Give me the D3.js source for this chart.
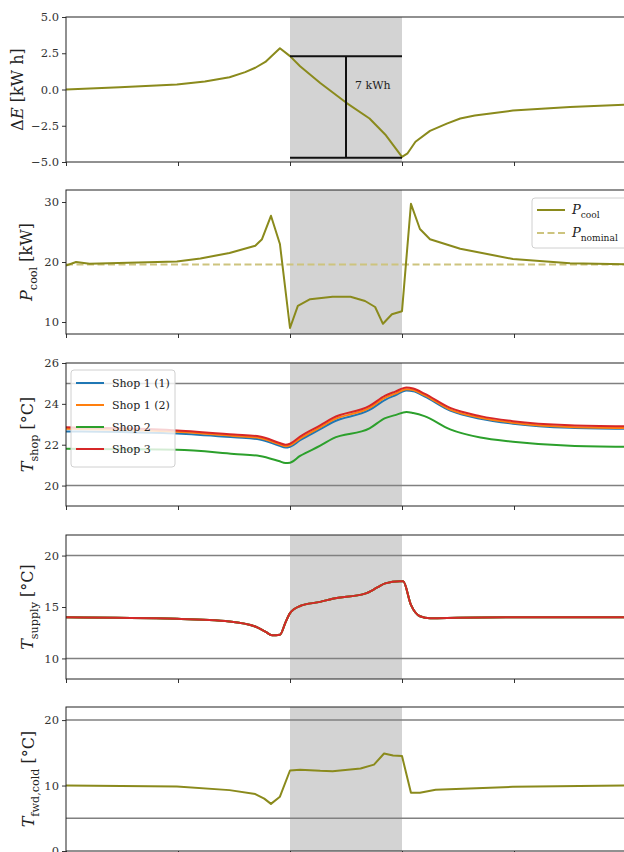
<!DOCTYPE html>
<html lang="en">
<head>
  <meta charset="UTF-8">
  <title>Demand response event</title>
  <script src="https://d3js.org/d3.v7.min.js"></script>
  <style>
    body { margin: 0; background: #fff; }
    text { font-family: "DejaVu Serif", "Liberation Serif", serif; }
  </style>
</head>
<body>
  <div id="my_dataviz"></div>
  <script>
    // Event window (hours)
    var eventStart = 2, eventEnd = 3;

    // Panel 1: energy deviation [kWh]
    var tEnergy = [0, 0.48, 0.99, 1.24, 1.46, 1.6, 1.69, 1.78, 1.91, 2.0, 2.09, 2.27, 2.5, 2.71, 2.85, 3.0, 3.05, 3.12, 3.25, 3.4, 3.52, 3.65, 3.79, 3.99, 4.5, 5.0];
    var energy  = [0, 0.15, 0.35, 0.55, 0.85, 1.2, 1.5, 1.9, 2.85, 2.3, 1.6, 0.45, -0.9, -2.0, -3.1, -4.65, -4.4, -3.6, -2.85, -2.35, -2.0, -1.8, -1.65, -1.45, -1.2, -1.05];
    var energyTop = 2.3, energyBottom = -4.7, energyMark = 2.5;
    var energyLabel = "7 kWh";

    // Panel 2: cooling power [kW]
    var tCool = [0, 0.09, 0.21, 0.99, 1.2, 1.46, 1.69, 1.75, 1.83, 1.91, 2.0, 2.07, 2.18, 2.38, 2.54, 2.67, 2.76, 2.83, 2.91, 3.0, 3.08, 3.16, 3.25, 3.52, 3.99, 4.5, 5.0];
    var pCool = [19.4, 20.0, 19.7, 20.1, 20.6, 21.5, 22.7, 23.8, 27.7, 23.0, 9.0, 12.7, 13.8, 14.2, 14.2, 13.5, 12.5, 9.7, 11.3, 11.8, 29.7, 25.5, 23.8, 22.2, 20.5, 19.8, 19.6];
    var pNominal = 19.6;

    // Panel 3: shop temperatures [°C]
    var shopNames = ["Shop 1 (1)", "Shop 1 (2)", "Shop 2", "Shop 3"];
    var shopColors = ["#1f77b4", "#ff7f0e", "#2ca02c", "#d62728"];
    var tShop = [0, 0.5, 0.99, 1.5, 1.73, 1.9, 1.96, 2.0, 2.09, 2.27, 2.38, 2.71, 2.85, 2.94, 3.04, 3.1, 3.2, 3.43, 3.7, 3.99, 4.5, 5.0];
    var shop1a = [22.65, 22.62, 22.55, 22.36, 22.26, 21.96, 21.86, 21.9, 22.22, 22.76, 23.1, 23.7, 24.2, 24.42, 24.65, 24.62, 24.37, 23.67, 23.27, 23.03, 22.83, 22.78];
    var shop1b = [22.78, 22.73, 22.63, 22.43, 22.33, 22.03, 21.93, 21.97, 22.3, 22.85, 23.2, 23.8, 24.3, 24.5, 24.72, 24.68, 24.43, 23.72, 23.32, 23.08, 22.87, 22.82];
    var shop2  = [21.8, 21.78, 21.75, 21.55, 21.45, 21.2, 21.1, 21.12, 21.45, 21.95, 22.3, 22.8, 23.3, 23.45, 23.6, 23.55, 23.4, 22.75, 22.35, 22.15, 21.95, 21.9];
    var shop3  = [22.85, 22.8, 22.7, 22.5, 22.4, 22.1, 22.0, 22.05, 22.4, 22.95, 23.3, 23.9, 24.4, 24.6, 24.8, 24.75, 24.5, 23.8, 23.4, 23.15, 22.95, 22.9];

    // Panel 4: supply temperature [°C] (same for every shop)
    var tSupply = [0, 0.99, 1.46, 1.69, 1.78, 1.84, 1.91, 1.96, 2.0, 2.09, 2.27, 2.38, 2.67, 2.78, 2.85, 2.98, 3.01, 3.08, 3.16, 3.25, 3.5, 4.0, 5.0];
    var supply  = [14.0, 13.85, 13.6, 13.1, 12.6, 12.25, 12.3, 13.5, 14.4, 15.1, 15.5, 15.8, 16.3, 16.9, 17.3, 17.5, 17.5, 15.2, 14.1, 13.9, 13.95, 14.0, 14.0];

    // Panel 5: cold forward temperature [°C]
    var tFwd = [0, 0.99, 1.46, 1.69, 1.77, 1.83, 1.91, 2.0, 2.09, 2.27, 2.38, 2.63, 2.75, 2.84, 2.92, 3.0, 3.08, 3.16, 3.3, 3.99, 5.0];
    var fwdCold = [10.0, 9.85, 9.3, 8.7, 8.0, 7.2, 8.3, 12.3, 12.4, 12.25, 12.2, 12.6, 13.2, 14.9, 14.6, 14.5, 8.9, 8.9, 9.35, 9.8, 10.0];

    // Layout
    var W = 624, H = 852;
    var left = 66, right = 626;
    var olive = "#8a8a1c", oliveLight = "#cdc47e";

    var svg = d3.select("#my_dataviz").append("svg")
        .attr("width", W).attr("height", H);

    var x = d3.scaleLinear().domain([0, 5]).range([left, right]);

    var panels = [
      {top: 17,  bottom: 162, domain: [-5, 5],  ticks: [-5, -2.5, 0, 2.5, 5], fmt: ".1f", ref: [],
       label: [["Δ", ""], ["E", "i"], [" [kW h]", ""]], labelX: 23},
      {top: 190, bottom: 334, domain: [8, 32],  ticks: [10, 20, 30], fmt: "d", ref: [],
       label: [["P", "i"], ["cool", "s"], [" [kW]", ""]], labelX: 32},
      {top: 363, bottom: 506, domain: [19, 26], ticks: [20, 22, 24, 26], fmt: "d", ref: [20, 25],
       label: [["T", "i"], ["shop", "s"], [" [°C]", ""]], labelX: 33},
      {top: 535, bottom: 679, domain: [8, 22],  ticks: [10, 15, 20], fmt: "d", ref: [10, 20],
       label: [["T", "i"], ["supply", "s"], [" [°C]", ""]], labelX: 33},
      {top: 707, bottom: 851, domain: [0, 22],  ticks: [0, 10, 20], fmt: "d", ref: [5, 20],
       label: [["T", "i"], ["fwd,cold", "s"], [" [°C]", ""]], labelX: 34}
    ];

    // Write a label made of pieces: "i" italic, "s" subscript
    function richText(sel, parts, size) {
      parts.forEach(function(p, i) {
        var prev = i > 0 ? parts[i - 1][1] : "";
        var ts = sel.append("tspan").text(p[0]);
        if (p[1] === "i") ts.style("font-style", "italic");
        if (p[1] === "s") ts.attr("dy", size * 0.3).style("font-size", (size * 0.7) + "px");
        if (prev === "s") ts.attr("dy", -size * 0.3);
      });
    }

    panels.forEach(function(p, k) {
      p.y = d3.scaleLinear().domain(p.domain).range([p.bottom, p.top]);
      var g = svg.append("g");

      g.append("clipPath").attr("id", "clip" + k)
        .append("rect").attr("x", left).attr("y", p.top)
        .attr("width", right - left).attr("height", p.bottom - p.top);

      // event shading
      g.append("rect")
        .attr("x", x(eventStart)).attr("y", p.top)
        .attr("width", x(eventEnd) - x(eventStart)).attr("height", p.bottom - p.top)
        .style("fill", "#d3d3d3");

      // reference lines
      g.selectAll(".ref").data(p.ref).enter().append("line")
        .attr("x1", left).attr("x2", right)
        .attr("y1", function(d) { return p.y(d); }).attr("y2", function(d) { return p.y(d); })
        .style("stroke", "#808080").style("stroke-width", 1.5);

      p.plot = g.append("g").attr("clip-path", "url(#clip" + k + ")");

      // y axis
      var ya = g.append("g").attr("transform", "translate(" + left + ",0)")
        .call(d3.axisLeft(p.y).tickValues(p.ticks).tickSize(4).tickPadding(3).tickFormat(d3.format(p.fmt)));
      ya.select(".domain").remove();
      ya.selectAll("text").style("font-family", "DejaVu Serif").style("font-size", "11.5px").style("fill", "#333");
      ya.selectAll("line").style("stroke", "#333");

      // x axis (shared, no labels)
      var xa = g.append("g").attr("transform", "translate(0," + p.bottom + ")")
        .call(d3.axisBottom(x).ticks(5).tickSize(4).tickFormat(""));
      xa.select(".domain").remove();
      xa.selectAll("line").style("stroke", "#333");

      // frame
      g.append("rect").attr("x", left).attr("y", p.top)
        .attr("width", right - left).attr("height", p.bottom - p.top)
        .style("fill", "none").style("stroke", "#222").style("stroke-width", 1);

      // y label
      var lab = g.append("text")
        .attr("transform", "translate(" + p.labelX + "," + ((p.top + p.bottom) / 2) + ") rotate(-90)")
        .attr("text-anchor", "middle")
        .style("font-size", "16px").style("fill", "#222");
      richText(lab, p.label, 16);
    });

    function drawLine(panel, ts, vs, color, width, dash, smooth) {
      var line = d3.line()
        .x(function(d, i) { return x(ts[i]); })
        .y(function(d) { return panel.y(d); })
        .curve(smooth ? d3.curveMonotoneX : d3.curveLinear);
      var path = panel.plot.append("path").datum(vs)
        .attr("d", line)
        .style("fill", "none").style("stroke", color).style("stroke-width", width)
        .style("stroke-linejoin", "round");
      if (dash) path.style("stroke-dasharray", dash);
      return path;
    }

    // Panel 1
    var p1 = panels[0];
    drawLine(p1, tEnergy, energy, olive, 2);
    [energyTop, energyBottom].forEach(function(v) {
      p1.plot.append("line")
        .attr("x1", x(eventStart)).attr("x2", x(eventEnd))
        .attr("y1", p1.y(v)).attr("y2", p1.y(v))
        .style("stroke", "#111").style("stroke-width", 2);
    });
    p1.plot.append("line")
      .attr("x1", x(energyMark)).attr("x2", x(energyMark))
      .attr("y1", p1.y(energyTop)).attr("y2", p1.y(energyBottom))
      .style("stroke", "#111").style("stroke-width", 2);
    p1.plot.append("text")
      .attr("x", x(energyMark) + 9).attr("y", p1.y(energyTop) + 33)
      .style("font-size", "11px").style("fill", "#222")
      .text(energyLabel);

    // Panel 2
    var p2 = panels[1];
    drawLine(p2, [0, 5], [pNominal, pNominal], oliveLight, 2, "7,3.5");
    drawLine(p2, tCool, pCool, olive, 2);

    var leg2 = p2.plot.append("g").attr("transform", "translate(532,198)");
    leg2.append("rect").attr("width", 100).attr("height", 50).attr("rx", 3)
      .style("fill", "#fff").style("fill-opacity", 0.8).style("stroke", "#d0d0d0");
    [[olive, null, "cool", 12], [oliveLight, "7,3.5", "nominal", 35]].forEach(function(e) {
      leg2.append("line").attr("x1", 5).attr("x2", 33).attr("y1", e[3]).attr("y2", e[3])
        .style("stroke", e[0]).style("stroke-width", 2).style("stroke-dasharray", e[1]);
      var t = leg2.append("text").attr("x", 40).attr("y", e[3] + 4).style("font-size", "13px").style("fill", "#222");
      richText(t, [["P", "i"], [e[2], "s"]], 13);
    });

    // Panel 3
    var p3 = panels[2];
    var shopSeries = [shop1a, shop1b, shop2, shop3];
    shopSeries.forEach(function(s, i) { drawLine(p3, tShop, s, shopColors[i], 2, null, true); });

    var leg3 = p3.plot.append("g").attr("transform", "translate(71,370)");
    leg3.append("rect").attr("width", 104).attr("height", 97).attr("rx", 3)
      .style("fill", "#fff").style("fill-opacity", 0.8).style("stroke", "#d0d0d0");
    shopNames.forEach(function(n, i) {
      var yy = 13 + i * 22;
      leg3.append("line").attr("x1", 5).attr("x2", 33).attr("y1", yy).attr("y2", yy)
        .style("stroke", shopColors[i]).style("stroke-width", 2);
      leg3.append("text").attr("x", 41).attr("y", yy + 4)
        .style("font-size", "11px").style("fill", "#222").text(n);
    });

    // Panel 4: all shops share the supply temperature, red drawn last
    var p4 = panels[3];
    shopColors.forEach(function(c) { drawLine(p4, tSupply, supply, c, 2, null, true); });

    // Panel 5
    var p5 = panels[4];
    drawLine(p5, tFwd, fwdCold, olive, 2);
  </script>
</body>
</html>
